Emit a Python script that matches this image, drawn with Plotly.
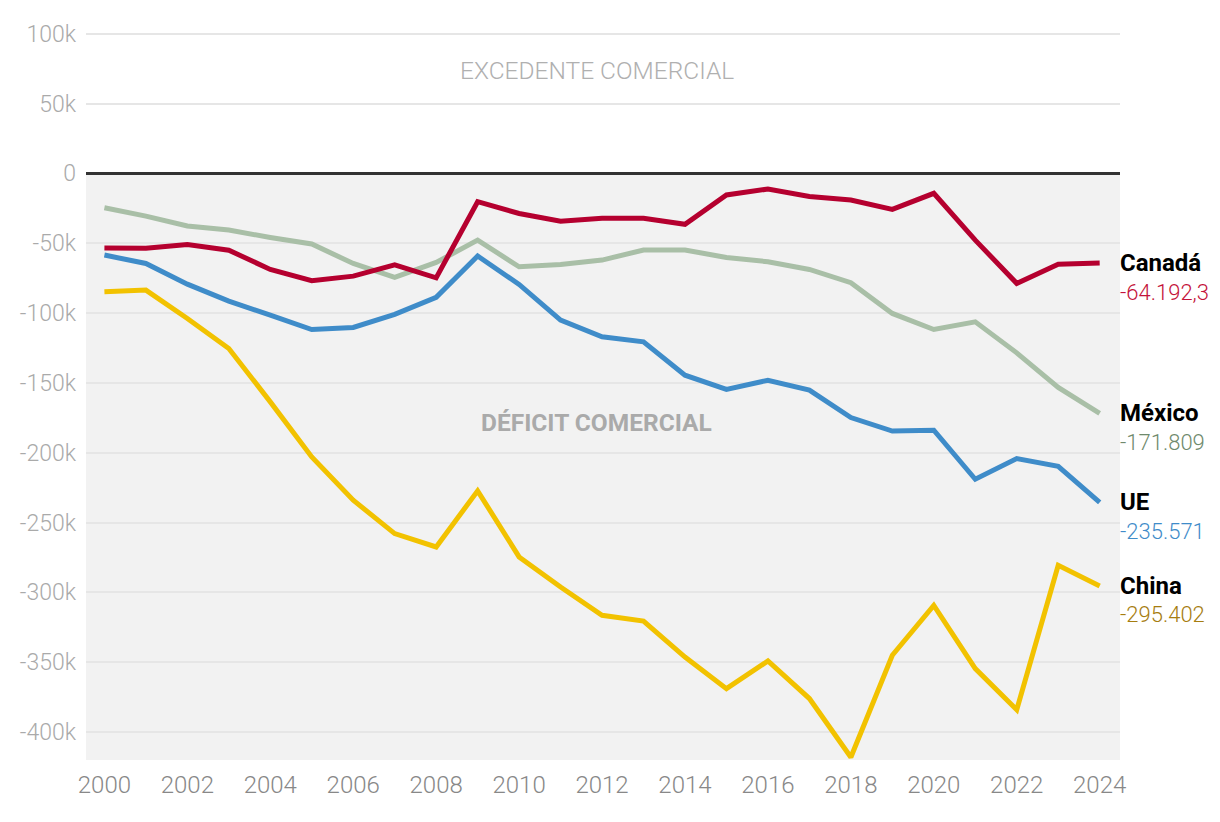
import plotly.graph_objects as go

years = list(range(2000, 2025))

canada = [-53.5, -53.7, -50.9, -55.0, -68.8, -76.9, -73.6, -65.5, -74.8, -20.3,
          -28.7, -34.2, -32.2, -32.2, -36.5, -15.5, -11.2, -16.5, -19.1, -25.8,
          -14.3, -47.8, -78.8, -65.0, -64.1923]
mexico = [-24.6, -30.6, -37.7, -40.6, -45.9, -50.6, -64.5, -74.5, -63.8, -47.8,
          -66.9, -65.2, -62.1, -54.9, -54.9, -60.2, -63.3, -68.8, -78.3, -100.3,
          -111.8, -106.3, -128.5, -153.3, -171.809]
ue = [-58.5, -64.5, -79.3, -91.5, -101.5, -111.8, -110.3, -101.0, -88.8, -59.2,
      -79.5, -105.1, -117.0, -120.6, -144.5, -154.7, -148.1, -155.2, -174.8, -184.5,
      -183.9, -219.0, -204.2, -209.7, -235.571]
china = [-84.8, -83.6, -103.9, -125.4, -163.6, -203.0, -234.0, -257.9, -267.5, -227.3,
         -274.6, -296.1, -316.4, -320.5, -346.3, -368.9, -349.1, -376.0, -418.0, -345.0,
         -309.3, -354.6, -384.0, -280.6, -295.402]

scale = 1000

series_names = ["Canadá", "México", "UE", "China"]
series_values = [canada, mexico, ue, china]
value_labels = ["-64.192,3", "-171.809", "-235.571", "-295.402"]
line_colors = ["#b5002f", "#a9bfa7", "#3f8cc9", "#f2c200"]
label_colors = ["#c4123a", "#6f8a6c", "#3f8cc9", "#a67d10"]

y_tickvals = [100, 50, 0, -50, -100, -150, -200, -250, -300, -350, -400]
y_ticktext = ["100k", "50k", "0", "-50k", "-100k", "-150k", "-200k", "-250k",
              "-300k", "-350k", "-400k"]
x_tickvals = list(range(2000, 2025, 2))

fig = go.Figure()

for idx in [3, 2, 1, 0]:
    fig.add_trace(go.Scatter(
        x=years, y=[v * scale for v in series_values[idx]],
        mode="lines", name=series_names[idx],
        line=dict(color=line_colors[idx], width=5),
        hoverinfo="skip", showlegend=False,
    ))

y_min, y_max = -420 * scale, 101.2 * scale

fig.add_shape(type="rect", xref="paper", yref="y", x0=0, x1=1, y0=y_min, y1=0,
              fillcolor="#f2f2f2", line=dict(width=0), layer="below")

for i, name in enumerate(series_names):
    last = series_values[i][-1] * scale
    fig.add_annotation(x=1, xref="paper", y=last, yref="y", text="<b>" + name + "</b>",
                       showarrow=False, xanchor="left", yanchor="middle", xshift=-2,
                       font=dict(family="Roboto", size=24, color="#000000"))
    fig.add_annotation(x=1, xref="paper", y=last, yref="y", text=value_labels[i],
                       showarrow=False, xanchor="left", yanchor="middle", yshift=-29,
                       xshift=-2,
                       font=dict(family="Roboto", size=22, color=label_colors[i], weight=300))

fig.add_annotation(x=0.494, xref="paper", y=73.9 * scale, yref="y",
                   text="EXCEDENTE COMERCIAL", showarrow=False,
                   font=dict(family="Roboto", size=24.5, color="#b0b0b0", weight=300))
fig.add_annotation(x=0.494, xref="paper", y=-178.6 * scale, yref="y",
                   text="<b>DÉFICIT COMERCIAL</b>", showarrow=False,
                   font=dict(family="Roboto", size=24.5, color="#aaaaaa"))

fig.update_layout(
    width=1212, height=814,
    margin=dict(l=74, r=100, t=24, b=62),
    paper_bgcolor="white", plot_bgcolor="rgba(0,0,0,0)",
    font=dict(family="Roboto"),
    xaxis=dict(range=[1999.556, 2024.49], tickvals=x_tickvals, showgrid=False,
               zeroline=False, showline=False, ticks="", ticklabelstandoff=8,
               tickfont=dict(family="Roboto", size=24, color="#888888", weight=300)),
    yaxis=dict(range=[y_min, y_max], tickvals=[v * scale for v in y_tickvals],
               ticktext=y_ticktext, showgrid=True, gridcolor="#e6e6e6", gridwidth=2,
               zeroline=True, zerolinecolor="#333333", zerolinewidth=2.5,
               showline=False, ticks="", ticklabelstandoff=9,
               tickfont=dict(family="Roboto", size=23, color="#aaaaaa", weight=300)),
)

fig.write_html("out.html")
